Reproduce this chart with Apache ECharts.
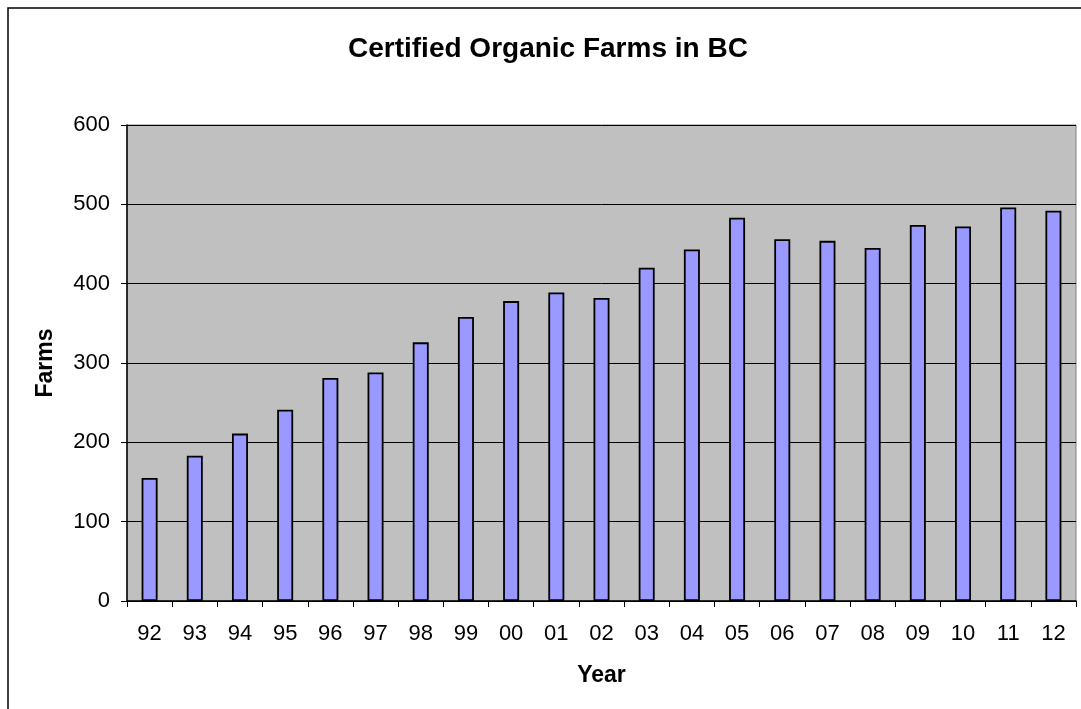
<!DOCTYPE html>
<html>
<head>
<meta charset="utf-8">
<script src="https://cdn.jsdelivr.net/npm/echarts@6/dist/echarts.min.js"></script>
<style>
html,body{margin:0;padding:0;background:#fff;}
#chart{width:1081px;height:709px;}
</style>
</head>
<body>
<div id="chart"></div>
<script>
const years = ['92','93','94','95','96','97','98','99','00','01','02','03','04','05','06','07','08','09','10','11','12'];
const farms = [155,183,211,241,281,288,326,358,378,389,382,420,443,483,456,454,445,474,472,496,492];
const yTicks = [0,100,200,300,400,500,600];

const font = 'Liberation Sans, Arial, sans-serif';
const chart = echarts.init(document.getElementById('chart'));
chart.setOption({
  backgroundColor: '#ffffff',
  animation: false,
  title: {
    text: 'Certified Organic Farms in BC',
    left: 343,
    top: 30,
    textStyle: {fontFamily: font, fontSize: 28, fontWeight: 'bold', color: '#000'}
  },
  graphic: [{
    type: 'rect',
    shape: {x: 8, y: 8, width: 1200, height: 900},
    style: {fill: 'none', stroke: '#000', lineWidth: 1.5},
    silent: true
  }],
  grid: {
    left: 127, right: 5, top: 125, bottom: 108,
    show: true, backgroundColor: '#c0c0c0', borderColor: '#808080', borderWidth: 1
  },
  xAxis: {
    type: 'category',
    data: years,
    name: 'Year',
    nameLocation: 'middle',
    nameGap: 63,
    nameTextStyle: {fontFamily: font, fontSize: 23, fontWeight: 'bold', color: '#000'},
    axisLine: {lineStyle: {color: '#000', width: 1.5}},
    axisTick: {show: true, length: 6, lineStyle: {color: '#000'}},
    axisLabel: {fontFamily: font, fontSize: 22, color: '#000', margin: 22},
    splitLine: {show: false}
  },
  yAxis: {
    type: 'value',
    min: yTicks[0],
    max: yTicks[yTicks.length - 1],
    interval: 100,
    name: 'Farms',
    nameLocation: 'middle',
    nameGap: 70,
    nameRotate: 90,
    nameTextStyle: {fontFamily: font, fontSize: 23, fontWeight: 'bold', color: '#000'},
    axisLine: {show: true, lineStyle: {color: '#000', width: 1.5}},
    axisTick: {show: true, length: 6, lineStyle: {color: '#000'}},
    axisLabel: {fontFamily: font, fontSize: 22, color: '#000', margin: 17},
    splitLine: {show: true, lineStyle: {color: '#000', width: 1}}
  },
  series: [{
    type: 'bar',
    data: farms,
    barWidth: 16,
    itemStyle: {color: '#9999ff', borderColor: '#000', borderWidth: 1.8}
  }]
});
</script>
</body>
</html>
